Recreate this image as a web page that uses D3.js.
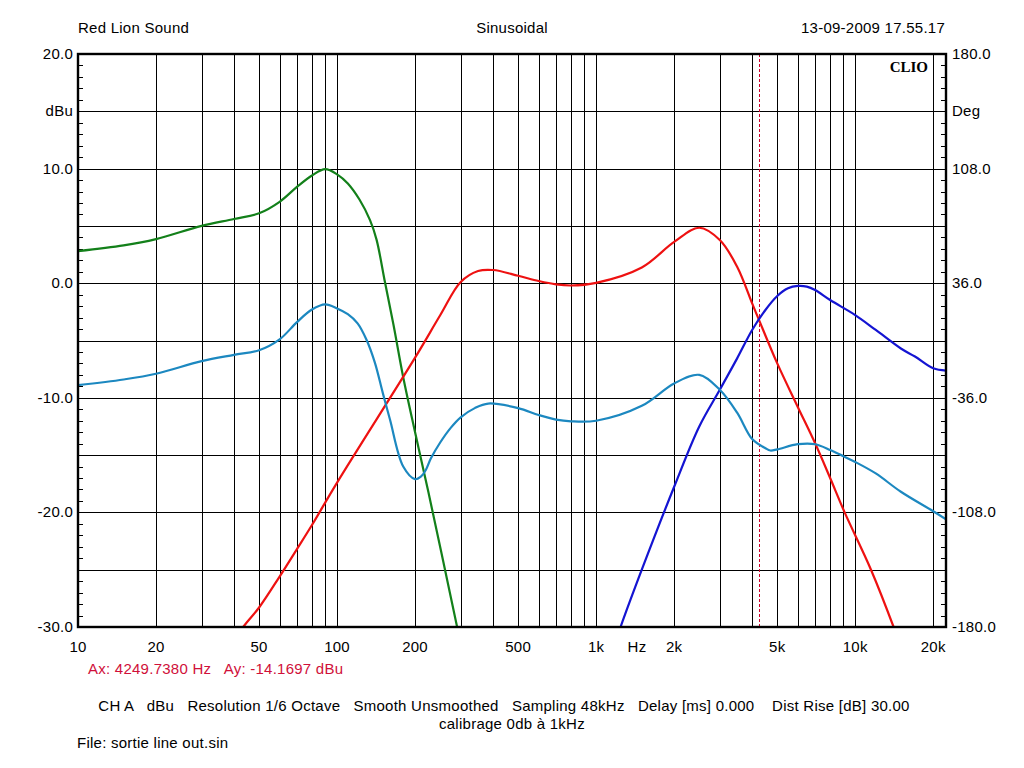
<!DOCTYPE html>
<html><head><meta charset="utf-8">
<script src="https://cdn.jsdelivr.net/npm/d3@7"></script>
<style>
html,body{margin:0;padding:0;background:#fff;}
svg{display:block;font-family:"Liberation Sans",Arial,sans-serif;}
</style></head>
<body>
<svg id="c" width="1024" height="768"></svg>
<script>
// ---- data ----
const greenFreq = [10,15,20,30,40,50,60,70,80,90,100,110,122,134,142,153,165,180,200,225,290.6,300];
const greenVal  = [2.8,3.3,3.85,5.0,5.6,6.1,7.1,8.4,9.4,9.95,9.5,8.7,7.3,5.5,3.8,0.1,-3.6,-8.2,-13.0,-18.2,-30,-31.5];

const cyanFreq = [10,15,20,30,40,50,60,70,80,90,100,110,120,130,140,150,160,180,200,210,220,230,250,275,300,340,383,500,600,700,800,1000,1500,2000,2500,3000,3500,4000,4500,4700,5000,6000,7000,8000,9000,10000,12000,15000,20000,22400];
const cyanVal  = [-8.9,-8.4,-7.9,-6.8,-6.25,-5.85,-4.9,-3.4,-2.3,-1.85,-2.2,-2.7,-3.5,-4.95,-6.95,-9.55,-11.9,-16.0,-17.1,-16.9,-16.3,-15.3,-13.9,-12.6,-11.7,-10.9,-10.5,-10.9,-11.5,-11.9,-12.05,-12.0,-10.7,-8.75,-8.0,-9.3,-11.3,-13.6,-14.4,-14.6,-14.5,-14.05,-14.05,-14.55,-15.1,-15.6,-16.6,-18.2,-19.9,-20.6];

const redFreq = [40,43.4,50,60,70,80,100,200,250,300,350,400,500,600,700,800,1000,1500,2000,2500,3000,3500,4000,4250,5000,6000,7000,8000,9100,11500,14060,15000];
const redVal  = [-31.3,-30,-28.3,-25.6,-23.2,-21.1,-17.4,-6.5,-2.8,0.1,1.06,1.15,0.65,0.19,-0.1,-0.2,0.03,1.37,3.6,4.84,3.77,1.44,-1.76,-3.2,-7.0,-10.8,-13.97,-17.0,-20.0,-25.0,-30,-31.8];

const blueFreq = [1200,1242,1500,2000,2500,3000,3500,4000,4500,5000,5500,6000,6500,7000,8000,10000,12000,15000,17000,20000,22400];
const blueVal  = [-31,-30,-25.0,-17.76,-12.5,-9.3,-6.56,-4.08,-2.34,-1.12,-0.45,-0.24,-0.3,-0.6,-1.47,-2.78,-4.08,-5.7,-6.4,-7.43,-7.63];

const xTickVals  = [10,20,50,100,200,500,1000,2000,5000,10000,20000];
const xTickLabels= ["10","20","50","100","200","500","1k","2k","5k","10k","20k"];
const yTickVals  = [20,10,0,-10,-20,-30];
const degTickVals= [180,108,36,-36,-108,-180];
const cursorFreq = 4249.738;

// ---- layout ----
const svg = d3.select("#c");
const L = 78, R = 946, T = 54, B = 627;
const x = d3.scaleLog().domain([10,22400]).range([L,R]);
const y = d3.scaleLinear().domain([-30,20]).range([B,T]);
const yDeg = d3.scaleLinear().domain([-180,180]).range([B,T]);

// grid verticals
const gridF = [];
for (let d=10; d<=10000; d*=10) for (let k=1;k<10;k++){ const f=d*k; if(f>10 && f<=20000) gridF.push(f); }
svg.append("g").selectAll("line").data(gridF).join("line")
  .attr("x1",d=>Math.round(x(d))+0.5).attr("x2",d=>Math.round(x(d))+0.5)
  .attr("y1",T).attr("y2",B).attr("stroke","#000").attr("stroke-width",1);
// grid horizontals
const gridY = d3.range(-25,20,5);
svg.append("g").selectAll("line").data(gridY).join("line")
  .attr("x1",L).attr("x2",R)
  .attr("y1",d=>Math.round(y(d))+0.5).attr("y2",d=>Math.round(y(d))+0.5)
  .attr("stroke","#000").attr("stroke-width",1);
// minor ticks
const minor = d3.range(-29,20,1).filter(v=>v%5!==0);
svg.append("g").selectAll("line").data(minor).join("line")
  .attr("x1",L).attr("x2",L+5).attr("y1",d=>Math.round(y(d))+0.5).attr("y2",d=>Math.round(y(d))+0.5)
  .attr("stroke","#000");
svg.append("g").selectAll("line").data(minor).join("line")
  .attr("x1",R-5).attr("x2",R).attr("y1",d=>Math.round(y(d))+0.5).attr("y2",d=>Math.round(y(d))+0.5)
  .attr("stroke","#000");

// cursor
svg.append("line").attr("x1",Math.round(x(cursorFreq))+0.5).attr("x2",Math.round(x(cursorFreq))+0.5)
  .attr("y1",T).attr("y2",B).attr("stroke","#d0002a").attr("stroke-width",1).attr("stroke-dasharray","3,2");

// curves
svg.append("defs").append("clipPath").attr("id","clip").append("rect")
  .attr("x",L).attr("y",T).attr("width",R-L).attr("height",B-T);
const line = d3.line().x(d=>x(d[0])).y(d=>y(d[1])).curve(d3.curveCatmullRom.alpha(0.5));
const series = [
  {f:greenFreq, v:greenVal, c:"#13801a"},
  {f:redFreq,   v:redVal,   c:"#ee1111"},
  {f:blueFreq,  v:blueVal,  c:"#1414d2"},
  {f:cyanFreq,  v:cyanVal,  c:"#1c88c0"}
];
const cg = svg.append("g").attr("clip-path","url(#clip)");
series.forEach(s=>{
  cg.append("path").datum(s.f.map((f,i)=>[f,s.v[i]]))
    .attr("d",line).attr("fill","none").attr("stroke",s.c).attr("stroke-width",2.2)
    .attr("stroke-linejoin","round");
});

// frame
svg.append("rect").attr("x",L).attr("y",T).attr("width",R-L).attr("height",B-T)
  .attr("fill","none").attr("stroke","#000").attr("stroke-width",2.4);

// axis labels
const fs = 15, ls = 0.25;
const txt = (g)=>g.attr("font-size",fs).attr("letter-spacing",ls);
svg.append("g").selectAll("text").data(yTickVals).join("text")
  .attr("x",L-5).attr("y",d=>y(d)+5).attr("text-anchor","end").call(txt)
  .text(d=>d.toFixed(1));
svg.append("text").attr("x",L-5).attr("y",y(15)+5).attr("text-anchor","end").call(txt).text("dBu");
svg.append("g").selectAll("text").data(degTickVals).join("text")
  .attr("x",R+6).attr("y",d=>yDeg(d)+5).attr("text-anchor","start").call(txt)
  .text(d=>d.toFixed(1));
svg.append("text").attr("x",R+6).attr("y",y(15)+5).attr("text-anchor","start").call(txt).text("Deg");
svg.append("g").selectAll("text").data(xTickVals).join("text")
  .attr("x",d=>x(d)).attr("y",652).attr("text-anchor","middle").call(txt)
  .text((d,i)=>xTickLabels[i]);
svg.append("text").attr("x",637).attr("y",652).attr("text-anchor","middle").call(txt).text("Hz");

// header
svg.append("text").attr("x",L).attr("y",33).call(txt).text("Red Lion Sound");
svg.append("text").attr("x",512).attr("y",33).attr("text-anchor","middle").call(txt).text("Sinusoidal");
svg.append("text").attr("x",945).attr("y",33).attr("text-anchor","end").call(txt).text("13-09-2009 17.55.17");
svg.append("text").attr("x",928).attr("y",72).attr("text-anchor","end").attr("font-size",15)
  .attr("font-family","'Liberation Serif','Times New Roman',serif").attr("font-weight","bold").text("CLIO");

// footer
svg.append("text").attr("x",88).attr("y",674).call(txt).attr("fill","#d0103a")
  .style("white-space","pre").text("Ax: 4249.7380 Hz   Ay: -14.1697 dBu");
svg.append("text").attr("x",504).attr("y",711).attr("text-anchor","middle").call(txt)
  .style("white-space","pre").text("CH A   dBu   Resolution 1/6 Octave   Smooth Unsmoothed   Sampling 48kHz   Delay [ms] 0.000    Dist Rise [dB] 30.00");
svg.append("text").attr("x",512).attr("y",729).attr("text-anchor","middle").call(txt).text("calibrage 0db à 1kHz");
svg.append("text").attr("x",77).attr("y",748).call(txt).text("File: sortie line out.sin");
</script>
</body></html>
